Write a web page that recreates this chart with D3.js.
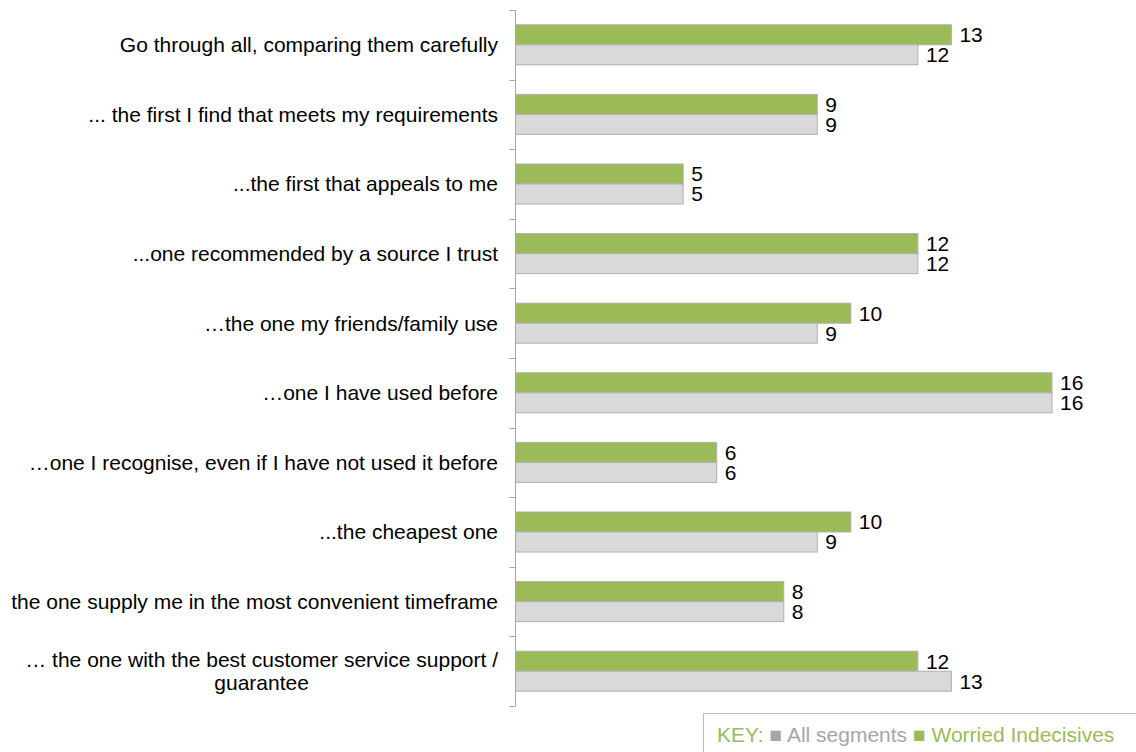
<!DOCTYPE html>
<html>
<head>
<meta charset="utf-8">
<script src="https://cdn.jsdelivr.net/npm/d3@7"></script>
<style>
  html, body { margin: 0; padding: 0; background: #fff; }
  svg { display: block; font-family: "Liberation Sans", Arial, sans-serif; }
</style>
</head>
<body>
<svg id="chart" width="1136" height="752"></svg>
<script>
// Answer options, top to bottom
const categories = [
  "Go through all, comparing them carefully",
  "... the first I find that meets my requirements",
  "...the first that appeals to me",
  "...one recommended by a source I trust",
  "\u2026the one my friends/family use",
  "\u2026one I have used before",
  "\u2026one I recognise, even if I have not used it before",
  "...the cheapest one",
  "the one supply me in the most convenient timeframe",
  "\u2026 the one with the best customer service support / guarantee"
];
// Wrapped lines for the long last label
const wrappedLabels = {
  9: ["\u2026 the one with the best customer service support /", "guarantee"]
};
const worriedIndecisives = [13, 9, 5, 12, 10, 16, 6, 10, 8, 12];
const allSegments        = [12, 9, 5, 12, 9, 16, 6, 9, 8, 13];
const seriesNames = ["All segments", "Worried Indecisives"];

const GREEN = "#9BBB59";
const GREY = "#D9D9D9";
const KEY_GREY = "#A6A6A6";
const FONT = 21;

const svg = d3.select("#chart");
const axisX = 515.5;

const x = d3.scaleLinear().domain([0, 16]).range([axisX, 1052]);
const y = d3.scaleBand().domain(d3.range(categories.length)).range([10, 706]).paddingInner(0).paddingOuter(0);

const barH = 20;
const groupOffset = (y.bandwidth() - 2 * barH) / 2;

const rows = categories.map((c, i) => ({
  i, label: c, worried: worriedIndecisives[i], all: allSegments[i]
}));

const g = svg.append("g");

// Worried Indecisives bars (upper)
g.selectAll("rect.worried").data(rows).join("rect")
  .attr("class", "worried")
  .attr("x", axisX)
  .attr("y", d => y(d.i) + groupOffset)
  .attr("width", d => x(d.worried) - axisX)
  .attr("height", barH)
  .attr("fill", GREEN)
  .attr("stroke", "#B0B0B0")
  .attr("stroke-width", 1);

// All segments bars (lower)
g.selectAll("rect.all").data(rows).join("rect")
  .attr("class", "all")
  .attr("x", axisX)
  .attr("y", d => y(d.i) + groupOffset + barH)
  .attr("width", d => x(d.all) - axisX)
  .attr("height", barH)
  .attr("fill", GREY)
  .attr("stroke", "#B0B0B0")
  .attr("stroke-width", 1);

// Value labels
g.selectAll("text.vw").data(rows).join("text")
  .attr("class", "vw")
  .attr("x", d => x(d.worried) + 8)
  .attr("y", d => y(d.i) + groupOffset + barH / 2)
  .attr("dy", "0.35em")
  .attr("font-size", FONT)
  .attr("fill", "#000")
  .text(d => d.worried);

g.selectAll("text.va").data(rows).join("text")
  .attr("class", "va")
  .attr("x", d => x(d.all) + 8)
  .attr("y", d => y(d.i) + groupOffset + barH * 1.5)
  .attr("dy", "0.35em")
  .attr("font-size", FONT)
  .attr("fill", "#000")
  .text(d => d.all);

// Category axis: line plus ticks on band boundaries
const axisG = svg.append("g");
axisG.append("line")
  .attr("x1", axisX).attr("x2", axisX)
  .attr("y1", 10).attr("y2", 706)
  .attr("stroke", "#A6A6A6").attr("stroke-width", 1);
const boundaries = d3.range(categories.length + 1).map(k => k === categories.length ? y.range()[1] : y(k));
axisG.selectAll("line.tick").data(boundaries).join("line")
  .attr("class", "tick")
  .attr("x1", axisX - 6).attr("x2", axisX)
  .attr("y1", d => Math.round(d) + 0.5).attr("y2", d => Math.round(d) + 0.5)
  .attr("stroke", "#A6A6A6").attr("stroke-width", 1);

// Category labels
const labelRight = 498;
rows.forEach(d => {
  const cy = y(d.i) + y.bandwidth() / 2;
  const lines = wrappedLabels[d.i];
  if (!lines) {
    g.append("text")
      .attr("x", labelRight).attr("y", cy)
      .attr("dy", "0.35em")
      .attr("text-anchor", "end")
      .attr("font-size", FONT)
      .attr("fill", "#000")
      .text(d.label);
  } else {
    const first = g.append("text")
      .attr("x", labelRight).attr("y", cy - 11.5)
      .attr("dy", "0.35em")
      .attr("text-anchor", "end")
      .attr("font-size", FONT)
      .attr("fill", "#000")
      .text(lines[0]);
    const w = first.node().getComputedTextLength();
    g.append("text")
      .attr("x", labelRight - w / 2).attr("y", cy + 11.5)
      .attr("dy", "0.35em")
      .attr("text-anchor", "middle")
      .attr("font-size", FONT)
      .attr("fill", "#000")
      .text(lines[1]);
  }
});

// Key
const key = svg.append("g");
key.append("rect")
  .attr("x", 703.5).attr("y", 713.5)
  .attr("width", 460).attr("height", 60)
  .attr("fill", "#fff")
  .attr("stroke", "#BFBFBF").attr("stroke-width", 1);
const keyText = key.append("text")
  .attr("x", 717).attr("y", 742)
  .attr("font-size", FONT);
keyText.append("tspan").attr("fill", GREEN).text("KEY: ");
keyText.append("tspan").attr("fill", KEY_GREY).text("\u25A0 " + seriesNames[0] + " ");
keyText.append("tspan").attr("fill", GREEN).text("\u25A0 " + seriesNames[1]);
</script>
</body>
</html>
